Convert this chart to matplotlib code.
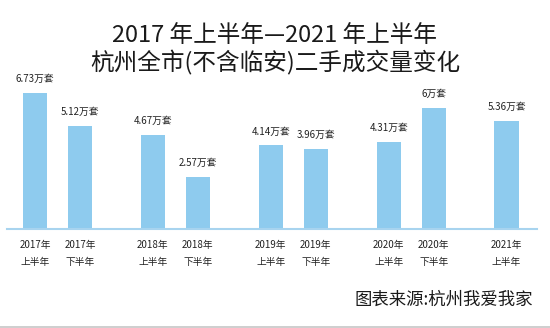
import matplotlib
matplotlib.use("Agg")
import matplotlib.pyplot as plt
from matplotlib.patches import Rectangle

plt.rcParams['font.family'] = ['Noto Sans CJK SC', 'DejaVu Sans']

# 二手成交量（万套）
years = ["2017年", "2017年", "2018年", "2018年", "2019年", "2019年", "2020年", "2020年", "2021年"]
halves = ["上半年", "下半年", "上半年", "下半年", "上半年", "下半年", "上半年", "下半年", "上半年"]
volumes = [6.73, 5.12, 4.67, 2.57, 4.14, 3.96, 4.31, 6.0, 5.36]
value_labels = ["6.73万套", "5.12万套", "4.67万套", "2.57万套", "4.14万套", "3.96万套",
                "4.31万套", "6万套", "5.36万套"]

W, H = 550, 328
fig = plt.figure(figsize=(W / 100, H / 100), dpi=100)
fig.patch.set_facecolor("white")

# axes placed in pixel space: baseline at y=229, spanning x 7..537
left_px, right_px, base_px, top_px = 7, 537, 229, 80
ax = fig.add_axes([left_px / W, (H - base_px) / H, (right_px - left_px) / W, (base_px - top_px) / H])

# bars grouped by year: two halves per year, gap between years
group_step = 2.62
positions = [(i // 2) * group_step + (i % 2) for i in range(len(volumes))]

bar_color = "#8ecbee"
ax.bar(positions, volumes, width=0.54, color=bar_color, zorder=2)

for x, v, lab in zip(positions, volumes, value_labels):
    ax.annotate(lab, (x, v), xytext=(0, 10), textcoords="offset points",
                ha="center", va="center", fontsize=7, color="#222222")

ax.set_xlim(-0.622, 11.156)
ax.set_ylim(0, (base_px - top_px) / 20.2)

for s in ["top", "right", "left"]:
    ax.spines[s].set_visible(False)
ax.spines["bottom"].set_color("#a8d4ef")
ax.spines["bottom"].set_linewidth(1.5)
ax.set_yticks([])
ax.set_xticks(positions)
ax.set_xticklabels([f"{y}\n{h}" for y, h in zip(years, halves)], fontsize=7,
                   color="#222222", linespacing=1.9)
ax.tick_params(axis="x", length=0, pad=8)

fig.text(0.5, 1 - 35 / H, "2017 年上半年—2021 年上半年", ha="center", va="center",
         fontsize=17, color="#1a1a1a", fontweight="medium")
fig.text(0.5, 1 - 63 / H, "杭州全市(不含临安)二手成交量变化", ha="center", va="center",
         fontsize=17, color="#1a1a1a", fontweight="medium")
fig.text(533 / W, 1 - 300 / H, "图表来源:杭州我爱我家", ha="right", va="center",
         fontsize=12.5, color="#1a1a1a", fontweight="medium")

fig.add_artist(Rectangle((0, 0), 1, 2.5 / H, transform=fig.transFigure,
                         facecolor="#cfcfcf", edgecolor="none"))

fig.savefig("out.png", dpi=100)
